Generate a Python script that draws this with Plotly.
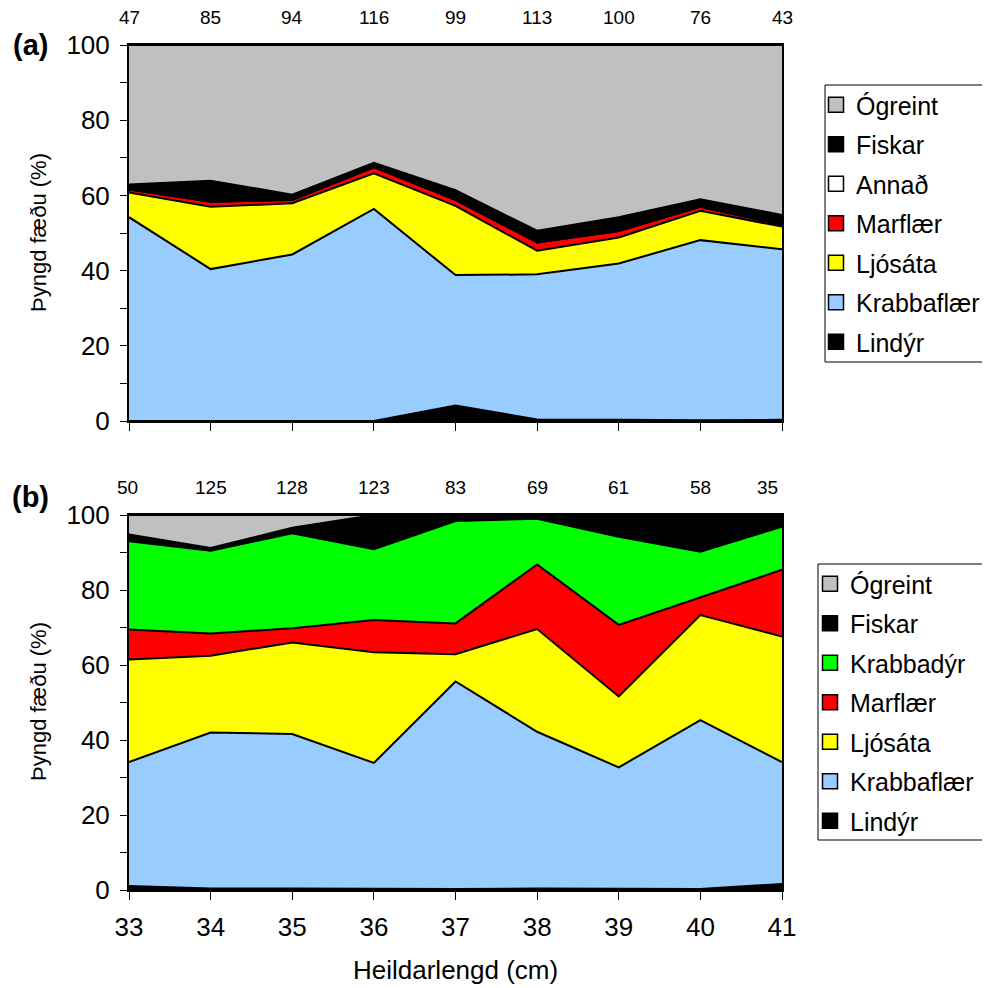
import plotly.graph_objects as go

lengths = [33, 34, 35, 36, 37, 38, 39, 40, 41]

# Panel (a) – percentage by weight per prey group
a_counts = [47, 85, 94, 116, 99, 113, 100, 76, 43]
a_lindyr = [0, 0, 0, 0, 4.1, 0.4, 0.3, 0.2, 0.3]
a_krabbaflaer = [54.2, 40.4, 44.3, 56.4, 34.7, 38.6, 41.6, 47.9, 45.4]
a_ljosata = [6.6, 16.6, 13.6, 9.5, 18.4, 6.3, 6.9, 7.8, 6.0]
a_marflaer = [0.8, 1.3, 0.9, 1.6, 1.6, 2.2, 1.7, 1.1, 0.4]
a_annad = [0, 0, 0, 0, 0, 0, 0, 0, 0]
a_fiskar = [1.3, 5.6, 1.4, 1.2, 2.6, 3.1, 3.7, 2.0, 2.7]
a_ogreint = [37.1, 36.1, 39.8, 31.3, 38.6, 49.4, 45.8, 41.0, 45.2]

# Panel (b)
b_counts = [50, 125, 128, 123, 83, 69, 61, 58, 35]
b_lindyr = [1.1, 0.4, 0.4, 0.3, 0.3, 0.4, 0.4, 0.3, 1.6]
b_krabbaflaer = [33.0, 41.6, 41.2, 33.6, 55.3, 41.8, 32.3, 45.0, 32.5]
b_ljosata = [27.4, 20.5, 24.4, 29.5, 7.3, 27.4, 18.9, 28.0, 33.5]
b_marflaer = [8.0, 5.9, 3.8, 8.6, 8.2, 17.2, 19.1, 4.7, 17.8]
b_krabbadyr = [23.5, 22.1, 25.3, 18.9, 27.3, 12.2, 23.5, 12.2, 11.5]
b_fiskar = [1.8, 0.7, 1.5, 9.1, 1.6, 1.0, 5.8, 9.8, 3.1]
b_ogreint = [5.2, 8.8, 3.4, 0, 0, 0, 0, 0, 0]

y_ticks = [0, 20, 40, 60, 80, 100]

C = {
    "Lindýr": "#000000",
    "Krabbaflær": "#99CCFF",
    "Ljósáta": "#FFFF00",
    "Marflær": "#FF0000",
    "Annað": "#FFFFFF",
    "Krabbadýr": "#00FF00",
    "Fiskar": "#000000",
    "Ógreint": "#C0C0C0",
}

series_a = [("Lindýr", a_lindyr), ("Krabbaflær", a_krabbaflaer), ("Ljósáta", a_ljosata),
            ("Marflær", a_marflaer), ("Annað", a_annad), ("Fiskar", a_fiskar), ("Ógreint", a_ogreint)]
series_b = [("Lindýr", b_lindyr), ("Krabbaflær", b_krabbaflaer), ("Ljósáta", b_ljosata),
            ("Marflær", b_marflaer), ("Krabbadýr", b_krabbadyr), ("Fiskar", b_fiskar), ("Ógreint", b_ogreint)]

FONT = "Liberation Sans, Arial, sans-serif"
W, H = 990, 988
OFF = 8  # page body margin


def px(x):
    return (x - OFF) / W


def py(y):
    return 1 - (y - OFF) / H


fig = go.Figure()


def add_panel(series, xa, ya, stack, legend):
    for name, vals in series:
        fig.add_trace(go.Scatter(
            x=lengths, y=vals, xaxis=xa, yaxis=ya, stackgroup=stack, mode="lines",
            line=dict(color="black", width=2), fillcolor=C[name], name=name,
            showlegend=False, hoverinfo="skip"))
    for i, (name, vals) in enumerate(series):
        fig.add_trace(go.Scatter(
            x=[None], y=[None], xaxis=xa, yaxis=ya, mode="markers", name=name,
            marker=dict(symbol="square", size=15, color=C[name], line=dict(color="black", width=1.5)),
            legend=legend, legendgroup=stack + name, legendrank=100 - i, showlegend=True))


add_panel(series_a, "x", "y", "a", "legend")
add_panel(series_b, "x2", "y2", "b", "legend2")

xdom = [px(129), px(782)]
axis_common = dict(range=[33, 41], tickmode="array", tickvals=lengths, ticks="outside", ticklen=8,
                   tickwidth=1, tickcolor="black", showline=True, linecolor="black", linewidth=2,
                   mirror=True, showgrid=False, zeroline=False, automargin=False, ticklabelstandoff=5,
                   tickfont=dict(family=FONT, size=26, color="black"))
yaxis_common = dict(range=[0, 100], tickmode="array", tickvals=y_ticks, ticks="outside", ticklen=7,
                    tickwidth=1, tickcolor="black", showline=True, linecolor="black", linewidth=2,
                    mirror=True, showgrid=False, zeroline=False, automargin=False, ticklabelstandoff=5,
                    minor=dict(dtick=10, ticks="outside", ticklen=7, tickcolor="black", tickwidth=1),
                    tickfont=dict(family=FONT, size=26, color="black"))

legend_common = dict(font=dict(family=FONT, size=25, color="black"), borderwidth=0,
                     bgcolor="rgba(0,0,0,0)", traceorder="grouped", tracegroupgap=4,
                     xanchor="left", yanchor="top", itemclick=False, itemdoubleclick=False)

fig.update_layout(
    width=W, height=H, template="none", paper_bgcolor="white", plot_bgcolor="white",
    margin=dict(l=0, r=0, t=0, b=0), showlegend=True,
    xaxis=dict(axis_common, domain=xdom, anchor="y", showticklabels=False),
    yaxis=dict(yaxis_common, domain=[py(421), py(45)], anchor="x"),
    xaxis2=dict(axis_common, domain=xdom, anchor="y2"),
    yaxis2=dict(yaxis_common, domain=[py(890), py(515)], anchor="x2"),
    legend=dict(legend_common, x=px(816), y=py(82)),
    legend2=dict(legend_common, x=px(810), y=py(561)),
    shapes=[
        dict(type="rect", xref="paper", yref="paper", x0=px(825), x1=px(1005), y0=py(362), y1=py(85),
             line=dict(color="black", width=1), fillcolor="rgba(0,0,0,0)", layer="above"),
        dict(type="rect", xref="paper", yref="paper", x0=px(818), x1=px(1005), y0=py(840), y1=py(564),
             line=dict(color="black", width=1), fillcolor="rgba(0,0,0,0)", layer="above"),
    ],
)

lab_font = dict(family=FONT, size=19, color="black")
ann = []
for xv, n in zip(lengths, a_counts):
    ann.append(dict(x=xv, y=1, xref="x", yref="y domain", text=str(n), showarrow=False,
                    xanchor="center", yanchor="bottom", yshift=15, font=lab_font))
for i, (xv, n) in enumerate(zip(lengths, b_counts)):
    ann.append(dict(x=xv, y=1, xref="x2", yref="y2 domain", text=str(n), showarrow=False,
                    xanchor="center", yanchor="bottom", yshift=15,
                    xshift=(-15 if i == len(lengths) - 1 else (-2 if i == 0 else 0)), font=lab_font))
ann += [
    dict(x=px(30), y=py(45), xref="paper", yref="paper", text="<b>(a)</b>", showarrow=False,
         xanchor="center", yanchor="middle", font=dict(family=FONT, size=29, color="black")),
    dict(x=px(30), y=py(497), xref="paper", yref="paper", text="<b>(b)</b>", showarrow=False,
         xanchor="center", yanchor="middle", font=dict(family=FONT, size=29, color="black")),
    dict(x=px(38), y=py(233), xref="paper", yref="paper", text="Þyngd fæðu (%)", textangle=-90,
         xanchor="center", yanchor="middle", showarrow=False, font=dict(family=FONT, size=22, color="black")),
    dict(x=px(38), y=py(702), xref="paper", yref="paper", text="Þyngd fæðu (%)", textangle=-90,
         xanchor="center", yanchor="middle", showarrow=False, font=dict(family=FONT, size=22, color="black")),
    dict(x=px(455), y=py(970), xref="paper", yref="paper", text="Heildarlengd (cm)",
         xanchor="center", yanchor="middle", showarrow=False, font=dict(family=FONT, size=26, color="black")),
]
fig.update_layout(annotations=ann)

fig.write_html("out.html")
